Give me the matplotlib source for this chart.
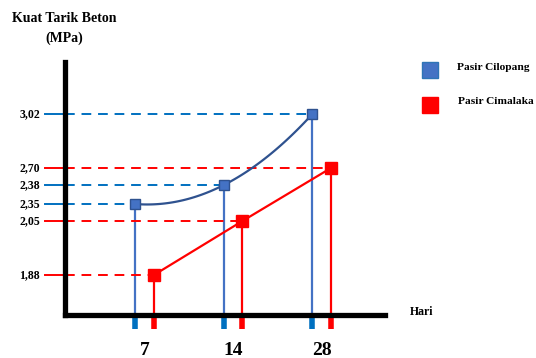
import numpy as np
import matplotlib
matplotlib.use('Agg')
import matplotlib.pyplot as plt
from matplotlib.transforms import blended_transform_factory
from matplotlib.lines import Line2D

# data
hari = ['7', '14', '28']
cilopang = [2.35, 2.38, 3.02]
cimalaka = [1.88, 2.05, 2.70]
y_labels = ['1,88', '2,05', '2,35', '2,38', '2,70', '3,02']

plt.rcParams['font.family'] = ['Liberation Serif', 'DejaVu Serif']
plt.rcParams['font.weight'] = 'bold'

# sketch-style y axis: not linear, piecewise mapping of the values
knots_v = [1.5, 1.88, 2.05, 2.35, 2.38, 2.70, 3.02, 3.3]
knots_h = [0, 40, 94, 111, 130, 147, 201, 253]
def fwd(v):
    return np.interp(v, knots_v, knots_h)
def inv(h):
    return np.interp(h, knots_h, knots_v)

blue = '#4472C4'
blue_dark = '#2F528F'
blue_dash = '#0070C0'
red = '#FF0000'

fig = plt.figure(figsize=(5.36, 3.58), dpi=100)
ax = fig.add_axes([65 / 536, 43 / 358, 320 / 536, 253 / 358])
ax.set_yscale('function', functions=(fwd, inv))
ax.set_xlim(-0.904, 2.71)
ax.set_ylim(1.5, 3.3)

x = np.arange(len(hari))
xb = x - 0.11
xr = x + 0.10

tr = blended_transform_factory(ax.transAxes, ax.transData)
trx = blended_transform_factory(ax.transData, ax.transAxes)

# guide lines to y axis
for xs, ys, c in [(xb, cilopang, blue_dash), (xr, cimalaka, red)]:
    for xi, yi in zip(xs, ys):
        ax.plot([-0.904, xi], [yi, yi], color=c, lw=1.4, ls=(0, (5, 3.5)), zorder=2)
        ax.plot([-20 / 320, 0], [yi, yi], color=c, lw=1.4, transform=tr, clip_on=False)
    # drop lines + small ticks below the x axis
    ax.vlines(xs, 1.5, ys, color=c if c == red else blue, lw=1.6, zorder=2)
    ax.vlines(xs, -0.012, -0.055, color=c, lw=4, transform=trx, clip_on=False)

for v, lab in zip(sorted(cilopang + cimalaka), y_labels):
    ax.text(-25 / 320, v, lab, transform=tr, ha='right', va='center', fontsize=8.5)

# blue series: smooth curve through the points
coef = np.polyfit(xb, fwd(np.array(cilopang)), 2)
xs = np.linspace(xb[0], xb[-1], 100)
ax.plot(xs, inv(np.polyval(coef, xs)), color=blue_dark, lw=1.6, zorder=3)
ax.plot(xb, cilopang, 's', ms=7, mfc=blue, mec=blue_dark, mew=1, zorder=4)

# red series
ax.plot(xr, cimalaka, color=red, lw=1.6, zorder=3)
ax.plot(xr, cimalaka, 's', ms=8, mfc=red, mec=red, zorder=4)

# axes
for s in ['top', 'right']:
    ax.spines[s].set_visible(False)
ax.spines['left'].set_linewidth(3.8)
ax.spines['bottom'].set_linewidth(3.8)
ax.set_xticks([])
ax.set_yticks([])
ax.yaxis.set_minor_locator(matplotlib.ticker.NullLocator())

for xi, lab in zip(x, hari):
    ax.text(xi, -0.158, lab, transform=trx, ha='center', va='baseline', fontsize=14)

fig.text(64 / 536, 1 - 18 / 358, 'Kuat Tarik Beton', ha='center', va='center', fontsize=10)
fig.text(64 / 536, 1 - 38 / 358, '(MPa)', ha='center', va='center', fontsize=10)
fig.text(410 / 536, 1 - 312 / 358, 'Hari', ha='left', va='center', fontsize=8.5)

# legend
fig.add_artist(Line2D([430 / 536], [1 - 70 / 358], marker='s', ms=12, mfc=blue,
                      mec='#2E75B6', mew=1, transform=fig.transFigure))
fig.add_artist(Line2D([430 / 536], [1 - 105 / 358], marker='s', ms=12, mfc=red,
                      mec=red, transform=fig.transFigure))
fig.text(457 / 536, 1 - 68 / 358, 'Pasir Cilopang', ha='left', va='center', fontsize=8.2)
fig.text(458 / 536, 1 - 102 / 358, 'Pasir Cimalaka', ha='left', va='center', fontsize=8.2)

fig.savefig('out.png', dpi=100)
